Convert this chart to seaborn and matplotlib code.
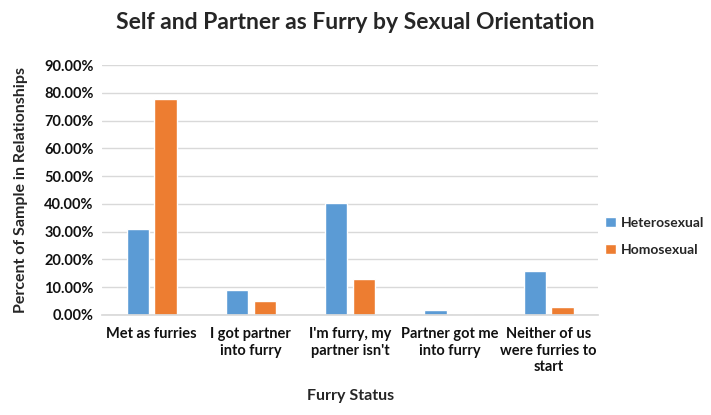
import matplotlib
matplotlib.use("Agg")
import matplotlib.pyplot as plt
import pandas as pd
import seaborn as sns
from matplotlib.ticker import PercentFormatter

# Data
categories = ["Met as furries", "I got partner\ninto furry", "I'm furry, my\npartner isn't",
              "Partner got me\ninto furry", "Neither of us\nwere furries to\nstart"]
heterosexual = [31.0, 9.0, 40.3, 1.8, 15.9]
homosexual = [77.8, 4.9, 12.8, 0.0, 2.9]
series = ["Heterosexual", "Homosexual"]

df = pd.DataFrame({
    "status": categories * 2,
    "orientation": [series[0]] * 5 + [series[1]] * 5,
    "value": heterosexual + homosexual,
})

sns.set_theme(style="white")
plt.rcParams['font.family'] = ['Lato', 'DejaVu Sans']

fig = plt.figure(figsize=(7.11, 4.15), dpi=100)
ax = fig.add_axes([0.1435, 0.241, 0.698, 0.602])

sns.barplot(data=df, x="status", y="value", hue="orientation", order=categories,
            hue_order=series, palette=["#5B9BD5", "#ED7D31"], width=0.56, gap=0.2,
            saturation=1, ax=ax, legend=True)

ax.set_ylim(0, 90)
ax.set_yticks(range(0, 91, 10))
ax.yaxis.set_major_formatter(PercentFormatter(decimals=2))
ax.grid(axis="y", color="#d9d9d9", linewidth=1)
ax.set_axisbelow(True)
for s in ["top", "right", "left"]:
    ax.spines[s].set_visible(False)
ax.spines["bottom"].set_color("#d9d9d9")
ax.tick_params(axis="both", length=0, labelsize=10.5, colors="#111111")
for lbl in ax.get_xticklabels() + ax.get_yticklabels():
    lbl.set_fontweight("bold")
ax.tick_params(axis="x", pad=9)
ax.tick_params(axis="y", pad=6)

ax.set_xlabel("Furry Status", fontsize=11.5, fontweight="bold", labelpad=11)
ax.set_ylabel("Percent of Sample in Relationships", fontsize=11.5, fontweight="bold", labelpad=12)
fig.suptitle("Self and Partner as Furry by Sexual Orientation", fontsize=16.5,
             fontweight="bold", x=0.5, y=0.972)

leg = ax.legend(loc="center left", bbox_to_anchor=(1.0, 0.315), frameon=False,
                fontsize=10, handlelength=0.75, handleheight=0.75, handletextpad=0.35,
                labelspacing=1.1, borderaxespad=0.1)
for t in leg.get_texts():
    t.set_fontweight("bold")

fig.savefig("out.png", dpi=100)
